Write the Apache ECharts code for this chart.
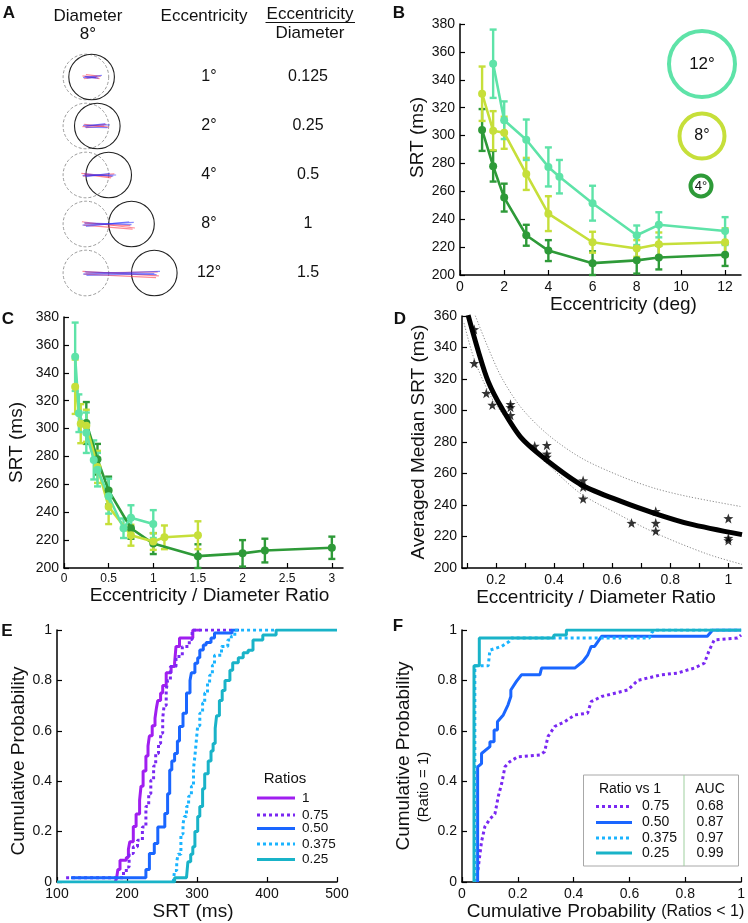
<!DOCTYPE html>
<html>
<head>
<meta charset="utf-8">
<script src="https://cdn.jsdelivr.net/npm/echarts@6/dist/echarts.min.js"></script>
<style>
  html, body { margin: 0; padding: 0; background: #fff; }
  #main { width: 748px; height: 923px; }
</style>
</head>
<body>
<div id="main"></div>
<script>
var FONT = "Liberation Sans, Arial, Helvetica, sans-serif";

// ---- panel A : schematic ----
var rowEcc = [1, 2, 4, 8, 12];
var rowRatio = ["0.125", "0.25", "0.5", "1", "1.5"];
var targetDiameter = 8;
var rowStep = 8.6; // deg between schematic rows
// saccade traces: [row, x0, dy0, x1, dy1, 0 = red / 1 = blue]
var traces = [
  [0, -0.6, -0.2, 2.4, 0.3, 0], [0, -0.3, 0.3, 2.0, -0.1, 0], [0, 0, -0.4, 2.6, -0.1, 0],
  [0, -0.5, 0.1, 2.8, -0.3, 1], [0, -0.2, -0.1, 2.2, 0.2, 1], [0, 0.1, 0.2, 1.8, 0.1, 1],
  [1, -0.6, 0.1, 3.6, -0.3, 0], [1, -0.3, -0.3, 4.0, 0.2, 0], [1, 0, 0.3, 3.2, 0, 0],
  [1, -0.5, -0.1, 4.2, -0.2, 1], [1, -0.2, 0.2, 3.8, 0.3, 1], [1, 0.1, 0, 3.4, -0.4, 1],
  [2, -0.8, -0.3, 4.6, 0.3, 0], [2, -0.5, 0.2, 5.0, -0.2, 0], [2, -0.2, -0.1, 4.4, 0.5, 0],
  [2, -0.6, 0.1, 5.3, 0, 1], [2, -0.3, -0.2, 4.8, 0.2, 1], [2, 0, 0.3, 4.2, -0.3, 1],
  [3, -0.7, -0.4, 8.6, 0.7, 0], [3, -0.4, 0.2, 8.2, 0.9, 0], [3, -0.2, -0.1, 7.8, 0.3, 0],
  [3, -0.6, 0.2, 8.4, -0.3, 1], [3, -0.3, -0.2, 8.0, 0.1, 1], [3, 0, 0.4, 7.6, -0.4, 1],
  [4, -0.6, -0.3, 12.8, 0.5, 0], [4, -0.3, 0.2, 12.3, 0.8, 0], [4, 0, 0, 12.6, -0.2, 0],
  [4, -0.5, 0.2, 13.0, -0.3, 1], [4, -0.2, -0.2, 12.4, 0.3, 1], [4, 0.1, 0.4, 12.0, 0.1, 1]
];

// ---- panels B, C : SRT by eccentricity for each stimulus diameter ----
var ecc12 = [1.5, 2, 3, 4, 4.5, 6, 8, 9, 12];
var srt12 = [351.5, 311, 297, 277.5, 270.5, 251.5, 228.5, 236, 231.5];
var err12 = [24.5, 13.5, 14.5, 14, 12, 12.5, 7, 9, 10];
var ecc8 = [1, 1.5, 2, 3, 4, 6, 8, 9, 12];
var srt8 = [330, 303.5, 302, 272.5, 244, 223.5, 219, 222, 223.5];
var err8 = [19.5, 14, 11.5, 11.5, 12.5, 7.5, 6, 8.5, 10];
var ecc4 = [1, 1.5, 2, 3, 4, 6, 8, 9, 12];
var srt4 = [304, 278, 255.5, 228.5, 217.5, 208.5, 210.5, 212.5, 214.5];
var err4 = [15, 11, 10, 7.5, 7.5, 8.5, 9.5, 8.5, 8];

// ---- panel D : fit and confidence band ----
var fitX = [0.104, 0.139, 0.173, 0.22, 0.288, 0.38, 0.495, 0.633, 0.748, 0.863, 1.047];
var fitY = [360.5, 337.7, 318.5, 301.5, 282.4, 267.6, 252.7, 242.1, 234.6, 228.2, 221.2];
var bandHiX = [0.125, 0.173, 0.22, 0.288, 0.38, 0.495, 0.633, 0.748, 0.863, 1.047];
var bandHiY = [362, 339.8, 320.7, 301.5, 284.5, 269.7, 258, 250.5, 245.3, 238.9];
var bandLoX = [0.09, 0.124, 0.182, 0.239, 0.308, 0.388, 0.492, 0.618, 0.755, 0.927, 1.047];
var bandLoY = [355.5, 333.2, 309, 293.9, 279, 264.1, 247.2, 234.4, 221.7, 208.9, 202.3];

// ---- panel E : cumulative SRT distributions [ms, p] ----
var cdf100 = [[183,0],[185,0.013],[187,0.05],[190,0.086],[199,0.097],[202,0.13],[204,0.16],[209,0.22],[213,0.27],[218,0.325],[220,0.38],[223,0.44],[227,0.5],[230,0.54],[232,0.58],[236,0.62],[240,0.65],[242,0.69],[244,0.72],[248,0.75],[251,0.78],[256,0.83],[263,0.855],[268,0.87],[270,0.935],[275,0.968],[290,0.968],[294,1],[305,1]];
var cdf075 = [[113,0.017],[190,0.017],[195,0.04],[199,0.06],[203,0.113],[209,0.14],[215,0.166],[222,0.218],[227,0.3],[231,0.35],[234,0.404],[238,0.46],[241,0.51],[245,0.55],[248,0.59],[251,0.65],[253,0.7],[256,0.76],[258,0.8],[262,0.855],[270,0.895],[279,0.935],[289,0.962],[293,1],[350,1]];
var cdf050 = [[120,0.017],[223,0.017],[227,0.05],[232,0.113],[239,0.153],[244,0.218],[254,0.272],[258,0.35],[261,0.444],[264,0.48],[268,0.51],[272,0.56],[275,0.617],[280,0.67],[285,0.75],[290,0.8],[292,0.83],[297,0.868],[301,0.89],[304,0.921],[309,0.94],[313,0.95],[320,0.968],[325,0.988],[350,1],[360,1]];
var cdf0375 = [[266,0],[268,0.046],[271,0.08],[273,0.11],[277,0.19],[280,0.23],[282,0.26],[285,0.3],[288,0.34],[292,0.38],[295,0.45],[297,0.5],[299,0.56],[301,0.62],[304,0.67],[308,0.71],[311,0.75],[315,0.79],[318,0.82],[322,0.86],[325,0.9],[335,0.935],[344,0.96],[349,0.975],[354,1],[412,1]];
var cdf025 = [[100,0],[268,0],[268,0.017],[285,0.017],[287,0.08],[291,0.11],[294,0.14],[297,0.2],[301,0.26],[304,0.3],[308,0.37],[311,0.43],[316,0.48],[320,0.52],[323,0.55],[326,0.61],[328,0.66],[332,0.72],[336,0.76],[340,0.8],[347,0.84],[351,0.87],[359,0.89],[366,0.91],[373,0.92],[380,0.96],[394,0.98],[413,1],[500,1]];

// ---- panel F : ROC curves vs ratio 1 [p(ratio<1), p(ratio=1)] ----
var roc075 = [[0.052,0],[0.06,0.073],[0.07,0.16],[0.082,0.22],[0.1,0.25],[0.118,0.27],[0.13,0.34],[0.142,0.39],[0.154,0.457],[0.171,0.477],[0.2,0.497],[0.279,0.504],[0.296,0.517],[0.308,0.577],[0.332,0.617],[0.368,0.636],[0.404,0.663],[0.45,0.67],[0.463,0.716],[0.5,0.736],[0.594,0.762],[0.63,0.8],[0.713,0.822],[0.772,0.829],[0.832,0.849],[0.868,0.868],[0.886,0.92],[0.904,0.961],[0.987,0.968],[1,0.98]];
var roc050 = [[0.056,0],[0.056,0.457],[0.07,0.47],[0.07,0.51],[0.1,0.537],[0.1,0.557],[0.115,0.557],[0.115,0.603],[0.127,0.603],[0.127,0.636],[0.148,0.663],[0.165,0.703],[0.175,0.736],[0.175,0.762],[0.195,0.796],[0.213,0.822],[0.279,0.822],[0.285,0.849],[0.404,0.849],[0.433,0.875],[0.45,0.9],[0.463,0.935],[0.475,0.935],[0.5,0.975],[0.879,0.975],[0.898,1],[1,1]];
var roc0375 = [[0.046,0],[0.046,0.858],[0.094,0.858],[0.1,0.92],[0.142,0.935],[0.17,0.955],[0.177,0.968],[0.671,0.968],[0.68,0.99],[0.69,1],[1,1]];
var roc025 = [[0.043,0],[0.043,0.858],[0.062,0.858],[0.062,0.968],[0.326,0.968],[0.33,0.98],[0.374,0.98],[0.374,1],[1,1]];
var ratioLabels = ["1", "0.75", "0.50", "0.375", "0.25"];
var aucValues = ["0.68", "0.87", "0.97", "0.99"];

var C_PURPLE = "#a01ef0", C_VIOLET = "#7a28f2", C_BLUE = "#1a66ff", C_SKY = "#1ab4ff", C_TEAL = "#19b3c8";

var sizes = [
  { diam: 4, ecc: ecc4, srt: srt4, err: err4, color: "#2e9a38" },
  { diam: 8, ecc: ecc8, srt: srt8, err: err8, color: "#c6df3a" },
  { diam: 12, ecc: ecc12, srt: srt12, err: err12, color: "#5ee3a8" }
];

var chart = echarts.init(document.getElementById("main"));

function axis(opt) {
  var base = {
    type: "value",
    nameLocation: "middle",
    nameTextStyle: { fontSize: 19, color: "#111", fontFamily: FONT },
    axisLine: { show: true, onZero: false, lineStyle: { color: "#000", width: 1.5 } },
    axisTick: { show: true, inside: true, length: 5, lineStyle: { color: "#000", width: 1.2 } },
    axisLabel: { color: "#111", fontSize: 14, fontFamily: FONT, margin: 5 },
    splitLine: { show: false }
  };
  for (var k in opt) {
    if (typeof opt[k] === "object" && base[k] && !Array.isArray(opt[k])) {
      base[k] = Object.assign({}, base[k], opt[k]);
    } else {
      base[k] = opt[k];
    }
  }
  return base;
}

var grids = [
  { left: 57.4, top: 48.5, width: 125.4, height: 253 },   // A
  { left: 460, top: 24, width: 281, height: 251 },         // B
  { left: 64, top: 317, width: 279, height: 251 },         // C
  { left: 462, top: 316, width: 280, height: 252 },        // D
  { left: 57, top: 630, width: 280, height: 252 },         // E
  { left: 462, top: 630, width: 280, height: 252 }         // F
];

var xAxes = [
  { type: "value", gridIndex: 0, min: -5, max: 17, show: false },
  axis({ gridIndex: 1, min: 0, max: 12.72, name: "Eccentricity (deg)", nameGap: 15,
    nameTextStyle: { padding: [0, 0, 0, 46] },
    axisTick: { customValues: [0, 2, 4, 6, 8, 10, 12] },
    axisLabel: { customValues: [0, 2, 4, 6, 8, 10, 12] } }),
  axis({ gridIndex: 2, min: 0, max: 3.125, name: "Eccentricity / Diameter Ratio", nameGap: 18,
    nameTextStyle: { padding: [0, 0, 0, 12] },
    axisTick: { customValues: [0, 0.5, 1, 1.5, 2, 2.5, 3] },
    axisLabel: { fontSize: 12, customValues: [0, 0.5, 1, 1.5, 2, 2.5, 3] } }),
  axis({ gridIndex: 3, min: 0.083, max: 1.047, name: "Eccentricity / Diameter Ratio", nameGap: 18,
    nameTextStyle: { padding: [0, 12, 0, 0] },
    axisTick: { customValues: [0.1, 0.2, 0.3, 0.4, 0.5, 0.6, 0.7, 0.8, 0.9, 1] },
    axisLabel: { customValues: [0.2, 0.4, 0.6, 0.8, 1] } }),
  axis({ gridIndex: 4, min: 100, max: 500, interval: 100, name: "SRT (ms)", nameGap: 16,
    nameTextStyle: { padding: [0, 8, 0, 0] } }),
  axis({ gridIndex: 5, min: 0, max: 1, interval: 0.2, nameGap: 16,
    name: "{a|Cumulative Probability} {b|(Ratios < 1)}",
    nameTextStyle: { padding: [0, 0, 0, 8], rich: {
      a: { fontSize: 19, color: "#111", fontFamily: FONT },
      b: { fontSize: 16, color: "#111", fontFamily: FONT } } } })
];

var yAxes = [
  { type: "value", gridIndex: 0, min: -5, max: 39.4, inverse: true, show: false },
  axis({ gridIndex: 1, min: 200, max: 380, interval: 20, name: "SRT (ms)", nameGap: 31,
    nameTextStyle: { padding: [0, 0, 0, 24] } }),
  axis({ gridIndex: 2, min: 200, max: 380, interval: 20, name: "SRT (ms)", nameGap: 38 }),
  axis({ gridIndex: 3, min: 200, max: 360, interval: 20, name: "Averaged Median SRT (ms)", nameGap: 34 }),
  axis({ gridIndex: 4, min: 0, max: 1, interval: 0.2, name: "Cumulative Probability", nameGap: 27,
    nameTextStyle: { padding: [0, 10, 0, 0] } }),
  axis({ gridIndex: 5, min: 0, max: 1, interval: 0.2, nameGap: 28,
    name: "{a|Cumulative Probability}\n{b|(Ratio = 1)}",
    nameTextStyle: { rich: {
      a: { fontSize: 19, color: "#111", fontFamily: FONT, lineHeight: 20 },
      b: { fontSize: 15, color: "#111", fontFamily: FONT, lineHeight: 20, padding: [0, 62, 0, 0] } } } })
];

var series = [];

// A: fixation (dashed) and target (solid) circles
series.push({
  type: "custom", xAxisIndex: 0, yAxisIndex: 0, silent: true,
  data: rowEcc.map(function (e, i) { return [e, i * rowStep]; }),
  renderItem: function (params, api) {
    var r = api.size([targetDiameter / 2, 0])[0];
    var fix = api.coord([0, api.value(1)]);
    var tgt = api.coord([api.value(0), api.value(1)]);
    return { type: "group", children: [
      { type: "circle", shape: { cx: fix[0], cy: fix[1], r: r },
        style: { fill: "none", stroke: "#9a9a9a", lineWidth: 1, lineDash: [3, 2] } },
      { type: "circle", shape: { cx: tgt[0], cy: tgt[1], r: r },
        style: { fill: "none", stroke: "#222", lineWidth: 1.1 } }
    ] };
  }
});
series.push({
  type: "custom", xAxisIndex: 0, yAxisIndex: 0, silent: true,
  data: traces,
  renderItem: function (params, api) {
    var row = api.value(0) * rowStep;
    var p0 = api.coord([api.value(1), row + api.value(2)]);
    var p1 = api.coord([api.value(3), row + api.value(4)]);
    return { type: "line", shape: { x1: p0[0], y1: p0[1], x2: p1[0], y2: p1[1] },
      style: { stroke: api.value(5) ? "rgba(40,50,255,0.55)" : "rgba(255,40,60,0.55)", lineWidth: 1.2 } };
  }
});

function errorBars(xs, ys, es, color, idx) {
  return {
    type: "custom", xAxisIndex: idx, yAxisIndex: idx, silent: true, z: 3,
    encode: { x: 0, y: [1, 2] },
    data: xs.map(function (x, i) { return [x, ys[i] - es[i], ys[i] + es[i]]; }),
    renderItem: function (params, api) {
      var lo = api.coord([api.value(0), api.value(1)]);
      var hi = api.coord([api.value(0), api.value(2)]);
      var w = 3.5;
      var st = { stroke: color, lineWidth: 2.4 };
      return { type: "group", children: [
        { type: "line", shape: { x1: lo[0], y1: lo[1], x2: hi[0], y2: hi[1] }, style: st },
        { type: "line", shape: { x1: lo[0] - w, y1: lo[1], x2: lo[0] + w, y2: lo[1] }, style: st },
        { type: "line", shape: { x1: hi[0] - w, y1: hi[1], x2: hi[0] + w, y2: hi[1] }, style: st }
      ] };
    }
  };
}

sizes.forEach(function (s) {
  var ratio = s.ecc.map(function (e) { return e / s.diam; });
  [[1, s.ecc], [2, ratio]].forEach(function (pair) {
    var idx = pair[0], xs = pair[1];
    series.push(errorBars(xs, s.srt, s.err, s.color, idx));
    series.push({
      type: "line", xAxisIndex: idx, yAxisIndex: idx, z: 4,
      data: xs.map(function (x, i) { return [x, s.srt[i]]; }),
      symbol: "circle", symbolSize: 8, showSymbol: true,
      itemStyle: { color: s.color },
      lineStyle: { color: s.color, width: 2.6 }
    });
  });
});

// D: averaged medians as stars
var starPts = [];
sizes.forEach(function (s) {
  s.ecc.forEach(function (e, i) {
    var r = e / s.diam;
    if (r <= 1) starPts.push([r, s.srt[i]]);
  });
});
function zip(xs, ys) { return xs.map(function (x, i) { return [x, ys[i]]; }); }
[[bandHiX, bandHiY], [bandLoX, bandLoY]].forEach(function (b) {
  series.push({
    type: "line", xAxisIndex: 3, yAxisIndex: 3, data: zip(b[0], b[1]), smooth: 0.3,
    showSymbol: false, lineStyle: { color: "#8a8a8a", width: 1, type: [1.2, 1.8] }
  });
});
series.push({
  type: "line", xAxisIndex: 3, yAxisIndex: 3, data: zip(fitX, fitY), smooth: 0.3,
  showSymbol: false, lineStyle: { color: "#000", width: 5 }
});
series.push({
  type: "scatter", xAxisIndex: 3, yAxisIndex: 3, data: starPts, z: 5,
  symbol: "path://M0,-10L2.35,-3.24L9.51,-3.09L3.8,1.24L5.88,8.09L0,4L-5.88,8.09L-3.8,1.24L-9.51,-3.09L-2.35,-3.24Z",
  symbolSize: 10, itemStyle: { color: "#000" }
});

// E: CDFs
var cdfList = [
  [cdf100, C_PURPLE, "solid"], [cdf075, C_VIOLET, [3, 3]], [cdf050, C_BLUE, "solid"],
  [cdf0375, C_SKY, [3, 3]], [cdf025, C_TEAL, "solid"]
];
cdfList.forEach(function (c) {
  series.push({
    type: "line", xAxisIndex: 4, yAxisIndex: 4, data: c[0], step: "end",
    showSymbol: false, lineStyle: { color: c[1], width: 3, type: c[2] }
  });
});

// F: ROC curves
var rocList = [
  [roc075, C_VIOLET, [3, 3]], [roc050, C_BLUE, "solid"], [roc0375, C_SKY, [3, 3]], [roc025, C_TEAL, "solid"]
];
rocList.forEach(function (c) {
  series.push({
    type: "line", xAxisIndex: 5, yAxisIndex: 5, data: c[0],
    showSymbol: false, lineStyle: { color: c[1], width: 3, type: c[2] }
  });
});

// ---- annotations ----
function txt(x, y, s, size, opt) {
  opt = opt || {};
  return { type: "text", x: x, y: y, z: 10, silent: true, rotation: opt.rot || 0,
    style: { text: s, font: (opt.bold ? "bold " : "") + size + "px " + FONT, fill: "#111",
      textAlign: opt.align || "center", textVerticalAlign: "middle",
      align: opt.align || "center", verticalAlign: "middle" } };
}
function seg(x1, y1, x2, y2, color, width, dash) {
  return { type: "line", z: 10, silent: true, shape: { x1: x1, y1: y1, x2: x2, y2: y2 },
    style: { stroke: color, lineWidth: width, lineDash: dash || null } };
}

var graphics = [
  txt(9, 13, "A", 17, { bold: true }), txt(399, 13, "B", 17, { bold: true }),
  txt(8, 319, "C", 17, { bold: true }), txt(400, 319, "D", 17, { bold: true }),
  txt(7, 631, "E", 17, { bold: true }), txt(398, 626, "F", 17, { bold: true }),
  txt(88, 16, "Diameter", 17), txt(88, 34, "8°", 17),
  txt(204, 16, "Eccentricity", 17),
  txt(310, 14, "Eccentricity", 17), seg(265.5, 22.5, 355, 22.5, "#111", 1), txt(310, 33, "Diameter", 17)
];
rowEcc.forEach(function (e, i) {
  graphics.push(txt(209, 77 + 49 * i, e + "°", 16));
  graphics.push(txt(308, 77 + 49 * i, rowRatio[i], 16));
});

// B: stimulus size legend rings
[[702, 64, 33, "12°", 17, sizes[2].color], [702, 136, 22.5, "8°", 16, sizes[1].color],
 [701, 186, 10.5, "4°", 13, sizes[0].color]].forEach(function (r) {
  graphics.push({ type: "circle", z: 10, silent: true, shape: { cx: r[0], cy: r[1], r: r[2] },
    style: { fill: "none", stroke: r[5], lineWidth: 4 } });
  graphics.push(txt(r[0], r[1], r[3], r[4]));
});

// E legend
graphics.push(txt(285, 779, "Ratios", 15));
var eRows = [798, 815, 828.5, 844, 859.5];
cdfList.forEach(function (c, i) {
  graphics.push(seg(257, eRows[i], 295, eRows[i], c[1], 3, c[2] === "solid" ? null : c[2]));
  graphics.push(txt(302, eRows[i], ratioLabels[i], 13.5, { align: "left" }));
});

// F legend
graphics.push({ type: "rect", z: 9, silent: true, shape: { x: 583.5, y: 775, width: 155, height: 91 },
  style: { fill: "#fff", stroke: "#a8a8a8", lineWidth: 1 } });
graphics.push(seg(684, 775, 684, 866, "#9fcf9f", 1));
graphics.push(txt(630, 789, "Ratio vs 1", 14));
graphics.push(txt(710, 789, "AUC", 14));
var fRows = [806.5, 822.5, 838, 853];
rocList.forEach(function (c, i) {
  graphics.push(seg(596, fRows[i], 632, fRows[i], c[1], 3, c[2] === "solid" ? null : c[2]));
  graphics.push(txt(642, fRows[i], ratioLabels[i + 1], 14, { align: "left" }));
  graphics.push(txt(710, fRows[i], aucValues[i], 14));
});

chart.setOption({
  backgroundColor: "#fff",
  animation: false,
  textStyle: { fontFamily: FONT },
  grid: grids,
  xAxis: xAxes,
  yAxis: yAxes,
  series: series,
  graphic: { elements: graphics }
});
</script>
</body>
</html>
